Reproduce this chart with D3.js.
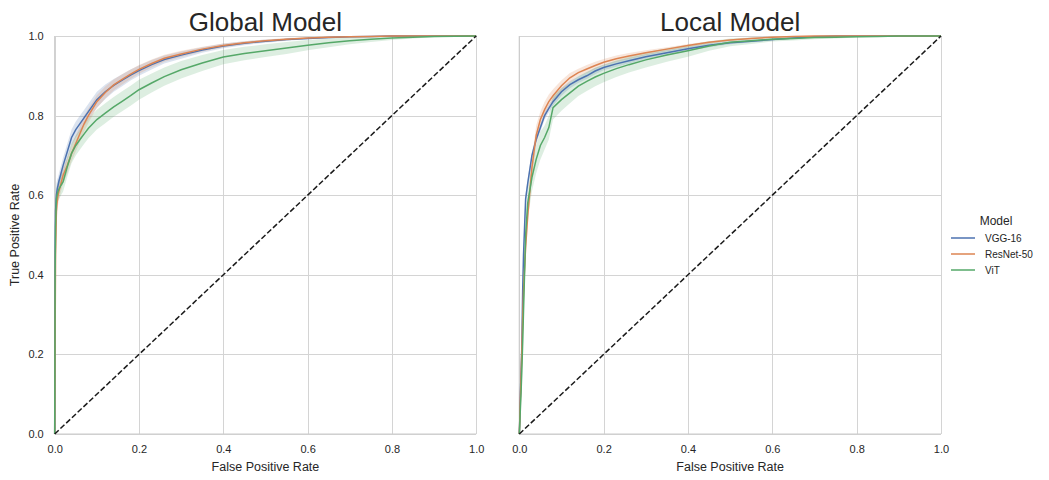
<!DOCTYPE html>
<html lang="en">
<head>
<meta charset="utf-8" />
<title>ROC curves</title>
<script src="https://cdn.jsdelivr.net/npm/d3@7"></script>
<style>
  body, html { margin: 0; padding: 0; background: #fff; }
  svg text { font-family: Arial, "Liberation Sans", sans-serif; fill: #262626; }
  .grid line { stroke: #d4d4d4; stroke-width: 1; shape-rendering: crispEdges; }
  .grid path { display: none; }
  .ticks path, .ticks line { display: none; }
  .ticks text { font-size: 11px; }
  .spine { stroke: #cccccc; stroke-width: 1.2; }
  .panel-title { font-size: 26px; text-anchor: middle; }
  .axis-label { font-size: 12.5px; text-anchor: middle; }
</style>
</head>
<body>
<div id="chart"></div>
<script>
// shared false positive rate grid
const fpr = [0, .001, .002, .004, .006, .008, .01, .015, .02, .03, .04, .05, .06, .07, .08, .10, .12, .14, .16, .18,
  .20, .23, .26, .30, .35, .40, .45, .50, .55, .60, .65, .70, .75, .80, .85, .90, 1.0];

const models = ["VGG-16", "ResNet-50", "ViT"];
const colors = ["#4c72b0", "#dd8452", "#55a868"];
const panelTitles = ["Global Model", "Local Model"];
const ticks = [0, 0.2, 0.4, 0.6, 0.8, 1.0];

// mean TPR
const globalVgg = [0, .45, .56, .60, .615, .625, .635, .655, .675, .71, .745, .765, .78, .795, .81, .84, .86, .876, .889, .902,
  .913, .928, .941, .952, .965, .975, .982, .987, .991, .994, .996, .998, .999, 1, 1, 1, 1];
const globalResnet = [0, .25, .45, .56, .585, .60, .61, .63, .65, .675, .705, .73, .755, .78, .80, .835, .858, .877, .891, .904,
  .916, .931, .944, .955, .967, .976, .983, .988, .992, .995, .997, .998, .999, 1, 1, 1, 1];
const globalVit = [0, .40, .52, .59, .603, .61, .615, .625, .634, .672, .705, .725, .74, .754, .768, .79, .806, .822, .836, .85,
  .865, .882, .898, .915, .932, .947, .956, .963, .97, .977, .983, .988, .992, .995, .997, .999, 1];

const localVgg = [0, .03, .08, .15, .22, .36, .45, .59, .63, .70, .74, .77, .80, .818, .835, .86, .878, .89, .90, .912,
  .921, .93, .938, .948, .958, .968, .977, .983, .987, .991, .995, .998, 1, 1, 1, 1, 1];
const localResnet = [0, .03, .07, .14, .21, .29, .36, .47, .55, .67, .75, .79, .815, .835, .85, .875, .895, .908, .917, .926,
  .934, .943, .95, .958, .967, .976, .984, .99, .994, .997, .999, 1, 1, 1, 1, 1, 1];
const localVit = [0, .02, .05, .10, .16, .23, .31, .50, .58, .645, .69, .725, .745, .77, .82, .84, .857, .874, .886, .897,
  .906, .918, .928, .94, .952, .963, .975, .984, .988, .992, .994, .996, .997, .998, .999, 1, 1];

// half width of the shaded confidence band
const globalVggBand = [0, .05, .04, .03, .025, .02, .02, .02, .02, .02, .02, .02, .02, .02, .02, .02, .018, .016, .015, .014,
  .013, .012, .01, .009, .007, .006, .005, .004, .003, .002, .002, .001, .001, 0, 0, 0, 0];
const globalResnetBand = [0, .08, .06, .04, .03, .025, .022, .02, .02, .02, .02, .02, .02, .02, .018, .016, .015, .014, .013, .012,
  .011, .01, .009, .008, .006, .005, .004, .003, .003, .002, .002, .001, .001, 0, 0, 0, 0];
const globalVitBand = [0, .05, .04, .03, .025, .025, .025, .025, .025, .025, .025, .025, .025, .025, .025, .025, .025, .025, .025, .025,
  .025, .024, .023, .022, .02, .018, .017, .016, .015, .013, .011, .009, .007, .005, .003, .002, 0];
const localVggBand = [0, .02, .02, .02, .02, .02, .02, .015, .012, .01, .01, .01, .01, .01, .01, .01, .009, .008, .008, .008,
  .007, .007, .007, .006, .006, .005, .005, .004, .003, .003, .002, .001, 0, 0, 0, 0, 0];
const localResnetBand = [0, .03, .03, .03, .03, .03, .03, .03, .03, .025, .025, .02, .02, .018, .016, .014, .012, .01, .01, .009,
  .008, .008, .007, .006, .005, .004, .003, .002, .002, .001, .001, 0, 0, 0, 0, 0, 0];
const localVitBand = [0, .03, .03, .03, .04, .04, .04, .04, .04, .035, .035, .035, .03, .03, .03, .028, .026, .025, .024, .023,
  .022, .021, .02, .019, .017, .015, .012, .01, .008, .006, .005, .004, .003, .002, .001, 0, 0];

const panels = [
  { title: panelTitles[0], range: [54.7, 476.2], series: [globalVgg, globalResnet, globalVit], bands: [globalVggBand, globalResnetBand, globalVitBand], yLabels: true },
  { title: panelTitles[1], range: [519.3, 941], series: [localVgg, localResnet, localVit], bands: [localVggBand, localResnetBand, localVitBand], yLabels: false }
];

const W = 1049, H = 480;
const svg = d3.select("#chart").append("svg").attr("width", W).attr("height", H);
const y = d3.scaleLinear().domain([0, 1]).range([434, 36]);

panels.forEach(p => {
  const x = d3.scaleLinear().domain([0, 1]).range(p.range);
  const g = svg.append("g");
  const fmt = d3.format(".1f");

  // grid
  g.append("g").attr("class", "grid")
    .attr("transform", `translate(0,${y(0)})`)
    .call(d3.axisBottom(x).tickValues(ticks).tickSize(-(y(0) - y(1))).tickFormat(""));
  g.append("g").attr("class", "grid")
    .attr("transform", `translate(${x(0)},0)`)
    .call(d3.axisLeft(y).tickValues(ticks).tickSize(-(x(1) - x(0))).tickFormat(""));

  // spines (left, bottom)
  g.append("line").attr("class", "spine").attr("x1", x(0)).attr("x2", x(0)).attr("y1", y(0)).attr("y2", y(1));
  g.append("line").attr("class", "spine").attr("x1", x(0)).attr("x2", x(1)).attr("y1", y(0)).attr("y2", y(0));

  // tick labels
  g.append("g").attr("class", "ticks")
    .attr("transform", `translate(0,${y(0)})`)
    .call(d3.axisBottom(x).tickValues(ticks).tickSize(0).tickPadding(11).tickFormat(fmt));
  if (p.yLabels) {
    g.append("g").attr("class", "ticks")
      .attr("transform", `translate(${x(0)},0)`)
      .call(d3.axisLeft(y).tickValues(ticks).tickSize(0).tickPadding(11).tickFormat(fmt));
  }

  // bands and mean curves
  p.series.forEach((s, i) => {
    const pts = fpr.map((f, k) => ({ f, t: s[k], lo: Math.max(0, s[k] - p.bands[i][k]), hi: Math.min(1, s[k] + p.bands[i][k]) }));
    g.append("path").datum(pts)
      .attr("fill", colors[i]).attr("fill-opacity", 0.2).attr("stroke", "none")
      .attr("d", d3.area().x(d => x(d.f)).y0(d => y(d.lo)).y1(d => y(d.hi)));
  });
  p.series.forEach((s, i) => {
    const pts = fpr.map((f, k) => ({ f, t: s[k] }));
    g.append("path").datum(pts)
      .attr("fill", "none").attr("stroke", colors[i]).attr("stroke-width", 1.5)
      .attr("d", d3.line().x(d => x(d.f)).y(d => y(d.t)));
  });

  // chance line
  g.append("line")
    .attr("x1", x(0)).attr("y1", y(0)).attr("x2", x(1)).attr("y2", y(1))
    .attr("stroke", "#1a1a1a").attr("stroke-width", 1.5).attr("stroke-dasharray", "5.5,2.4");

  g.append("text").attr("class", "panel-title")
    .attr("x", (x(0) + x(1)) / 2).attr("y", 31).text(p.title);
  g.append("text").attr("class", "axis-label")
    .attr("x", (x(0) + x(1)) / 2).attr("y", 471).text("False Positive Rate");
});

svg.append("text").attr("class", "axis-label")
  .attr("transform", `translate(19,${(y(0) + y(1)) / 2}) rotate(-90)`)
  .text("True Positive Rate");

// legend
const legend = svg.append("g").attr("transform", "translate(951,0)");
legend.append("text").attr("x", 45).attr("y", 225).attr("text-anchor", "middle")
  .style("font-size", "12px").text("Model");
models.forEach((m, i) => {
  const ly = 238 + i * 16;
  legend.append("line").attr("x1", 0).attr("x2", 24).attr("y1", ly).attr("y2", ly)
    .attr("stroke", colors[i]).attr("stroke-width", 1.5);
  legend.append("text").attr("x", 34).attr("y", ly + 3.5).style("font-size", "10px").text(m);
});
</script>
</body>
</html>
